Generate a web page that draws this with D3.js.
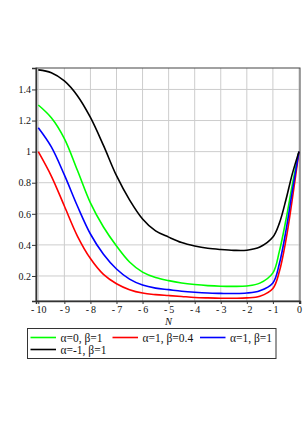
<!DOCTYPE html>
<html>
<head>
<meta charset="utf-8">
<script src="https://cdn.jsdelivr.net/npm/d3@7"></script>
<style>
  html, body { margin: 0; padding: 0; background: #fff; }
  svg { display: block; font-family: "Liberation Serif", "DejaVu Serif", serif; }
</style>
</head>
<body>
<div id="chartHolder"></div>
<script>
const xs = [-10, -9.5, -9, -8.5, -8, -7.5, -7, -6.5, -6, -5.5, -5, -4.5, -4, -3.5, -3, -2.5, -2, -1.5, -1, -0.75, -0.5, -0.25, 0];

const green = [1.30, 1.218, 1.084, 0.88, 0.67, 0.515, 0.393, 0.29, 0.225, 0.19, 0.17, 0.155, 0.145, 0.138, 0.134, 0.133, 0.136, 0.154, 0.22, 0.36, 0.56, 0.79, 1.0];
const red = [1.0, 0.843, 0.65, 0.457, 0.312, 0.21, 0.15, 0.112, 0.09, 0.08, 0.074, 0.068, 0.062, 0.059, 0.057, 0.057, 0.059, 0.07, 0.12, 0.23, 0.43, 0.70, 1.0];
const blue = [1.153, 1.03, 0.85, 0.65, 0.47, 0.34, 0.245, 0.18, 0.142, 0.122, 0.112, 0.102, 0.095, 0.09, 0.088, 0.087, 0.09, 0.105, 0.155, 0.28, 0.49, 0.75, 1.0];
const black = [1.526, 1.508, 1.455, 1.36, 1.22, 1.04, 0.845, 0.69, 0.567, 0.49, 0.45, 0.415, 0.393, 0.378, 0.37, 0.365, 0.366, 0.386, 0.45, 0.54, 0.69, 0.86, 1.0];

const seriesNames = ["α=0, β=1", "α=1, β=0.4", "α=1, β=1", "α=-1, β=1"];
const seriesColors = ["#00ff00", "#ff0000", "#0000ff", "#000000"];
const seriesValues = [green, red, blue, black];

const xTicks = [-10, -9, -8, -7, -6, -5, -4, -3, -2, -1, 0];
const yTicks = [0.2, 0.4, 0.6, 0.8, 1, 1.2, 1.4];
const xLabel = "N";

const width = 306, height = 433;
const plotLeft = 36, plotRight = 300, plotTop = 68, plotBottom = 301;

const x = d3.scaleLinear().domain([-10.088, 0.04]).range([plotLeft, plotRight]);
const y = d3.scaleLinear().domain([0.039, 1.538]).range([plotBottom, plotTop]);

const svg = d3.select("#chartHolder")
  .append("svg")
    .attr("width", width)
    .attr("height", height);

svg.append("rect").attr("width", width).attr("height", height).attr("fill", "#fff");

// grid
svg.append("g")
  .selectAll("line")
  .data(xTicks)
  .join("line")
    .attr("x1", d => x(d)).attr("x2", d => x(d))
    .attr("y1", plotTop).attr("y2", plotBottom)
    .attr("stroke", "#cdcdcd").attr("stroke-width", 1);

svg.append("g")
  .selectAll("line")
  .data(yTicks)
  .join("line")
    .attr("x1", plotLeft).attr("x2", plotRight)
    .attr("y1", d => y(d)).attr("y2", d => y(d))
    .attr("stroke", "#cdcdcd").attr("stroke-width", 1);

// frame
svg.append("rect")
  .attr("x", plotLeft).attr("y", plotTop)
  .attr("width", plotRight - plotLeft).attr("height", plotBottom - plotTop)
  .attr("fill", "none").attr("stroke", "#444").attr("stroke-width", 1);

// axes
const fmtX = d => d < 0 ? "-\u2009" + Math.abs(d) : String(d);

const xAxis = svg.append("g")
  .attr("transform", `translate(0,${plotBottom})`)
  .call(d3.axisBottom(x).tickValues(xTicks).tickFormat(fmtX).tickSize(3).tickPadding(2));

const yAxis = svg.append("g")
  .attr("transform", `translate(${plotLeft},0)`)
  .call(d3.axisLeft(y).tickValues(yTicks).tickFormat(d3.format("")).tickSize(4).tickPadding(1));

[xAxis, yAxis].forEach(g => {
  g.select(".domain").attr("stroke", "#333").attr("stroke-width", 1.5);
  g.selectAll(".tick line").attr("stroke", "#333");
  g.selectAll("text")
    .attr("fill", "#111")
    .style("font-family", "'Liberation Serif', serif")
    .style("font-size", "10px");
});

svg.append("text")
  .attr("x", x(-5))
  .attr("y", 325)
  .attr("text-anchor", "middle")
  .style("font-style", "italic")
  .style("font-size", "10.5px")
  .attr("fill", "#111")
  .text(xLabel);

// curves
const line = d3.line()
  .x((d, i) => x(xs[i]))
  .y(d => y(d))
  .curve(d3.curveCatmullRom.alpha(0.5));

svg.append("g")
  .selectAll("path")
  .data(seriesValues)
  .join("path")
    .attr("fill", "none")
    .attr("stroke", (d, i) => seriesColors[i])
    .attr("stroke-width", 1.6)
    .attr("stroke-linejoin", "round")
    .attr("d", line);

// legend
const legend = svg.append("g");
legend.append("rect")
  .attr("x", 27.5).attr("y", 328.5)
  .attr("width", 248.5).attr("height", 30)
  .attr("fill", "#fff").attr("stroke", "#333").attr("stroke-width", 1);

const legendPos = [[30.5, 337.5], [112.5, 337.5], [200, 337.5], [30.5, 349.5]];

const item = legend.selectAll("g.item")
  .data(seriesNames)
  .join("g")
    .attr("class", "item")
    .attr("transform", (d, i) => `translate(${legendPos[i][0]},${legendPos[i][1]})`);

item.append("line")
  .attr("x1", 0).attr("x2", 25.5)
  .attr("stroke", (d, i) => seriesColors[i])
  .attr("stroke-width", 1.6);

item.append("text")
  .attr("x", 30)
  .attr("dy", "0.35em")
  .style("font-size", "11.5px")
  .attr("fill", "#111")
  .text(d => d);
</script>
</body>
</html>
